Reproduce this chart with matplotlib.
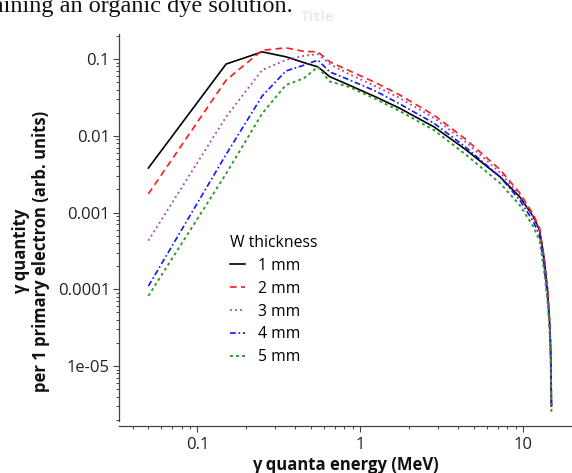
import matplotlib
matplotlib.use("Agg")
import matplotlib.pyplot as plt

plt.rcParams['font.family'] = ['Open Sans', 'DejaVu Sans']

# photon energy bins (MeV)
energy = [0.05, 0.15, 0.25, 0.35, 0.45, 0.55, 0.65, 0.85, 1.25, 1.75, 2.85,
          4.45, 7.25, 9.55, 11.55, 12.65, 13.45, 14.15, 14.55, 14.75, 14.85, 14.95]

w1mm = [0.0038, 0.086, 0.124, 0.107, 0.090, 0.079, 0.059, 0.046, 0.032, 0.0228, 0.0130,
        0.0066, 0.0029, 0.0016, 0.00089, 0.00059, 0.00026, 1.0e-4, 4.0e-5, 2.0e-5, 1.0e-5, 3.0e-6]
w2mm = [0.00175, 0.053, 0.130, 0.140, 0.126, 0.124, 0.092, 0.071, 0.049, 0.034, 0.0185,
        0.0090, 0.0036, 0.0018, 0.00095, 0.00062, 0.00027, 1.0e-4, 4.0e-5, 2.0e-5, 1.0e-5, 3.0e-6]
w3mm = [0.00043, 0.0176, 0.072, 0.097, 0.110, 0.116, 0.086, 0.064, 0.044, 0.031, 0.0170,
        0.0083, 0.0033, 0.0017, 0.00088, 0.00057, 0.00024, 9.0e-5, 3.8e-5, 1.8e-5, 9.0e-6, 3.0e-6]
w4mm = [0.00011, 0.0057, 0.033, 0.070, 0.083, 0.097, 0.068, 0.054, 0.038, 0.026, 0.0145,
        0.0071, 0.0029, 0.00145, 0.00077, 0.00050, 0.00021, 8.0e-5, 3.5e-5, 1.7e-5, 8.0e-6, 2.8e-6]
w5mm = [8.2e-5, 0.0032, 0.0195, 0.046, 0.056, 0.079, 0.051, 0.0435, 0.030, 0.0210, 0.0118,
        0.0057, 0.0024, 0.00125, 0.00066, 0.00043, 0.00018, 7.0e-5, 3.0e-5, 1.5e-5, 7.0e-6, 2.5e-6]

labels = ["1 mm", "2 mm", "3 mm", "4 mm", "5 mm"]

W, H = 572, 473
fig = plt.figure(figsize=(W / 100, H / 100), dpi=100)
ax = fig.add_axes([119 / W, 1 - 421 / H, 1 - 119 / W, (421 - 34) / H])

ax.plot(energy, w1mm, color="black", lw=1.2, label=labels[0])
ax.plot(energy, w2mm, color="#ff1a1a", lw=1.2, ls=(0, (4, 2.6)), label=labels[1])
ax.plot(energy, w3mm, color="#9d45b5", lw=1.3, ls=(0, (1, 1.8)), label=labels[2])
ax.plot(energy, w4mm, color="#1414ff", lw=1.2, ls=(0, (3.5, 1.6, 1, 1.6)), label=labels[3])
ax.plot(energy, w5mm, color="#2e9b2e", lw=1.4, ls=(0, (1.5, 1.6)), label=labels[4])

ax.set_xscale("log")
ax.set_yscale("log")
ax.set_xlim(0.033, 20)
ax.set_ylim(1.92e-6, 0.212)

ax.set_xticks([0.1, 1, 10])
ax.set_xticklabels(["0.1", "1", "10"])
ax.set_yticks([1e-5, 1e-4, 1e-3, 1e-2, 1e-1])
ax.set_yticklabels(["1e-05", "0.0001", "0.001", "0.01", "0.1"])

for s in ["top", "right"]:
    ax.spines[s].set_visible(False)
ax.spines["bottom"].set_position(("outward", 3.6))
for s in ["left", "bottom"]:
    ax.spines[s].set_color("#444444")
    ax.spines[s].set_linewidth(0.9)

ax.tick_params(which="major", direction="out", length=4.5, width=0.8, color="#444444",
               labelsize=12, labelcolor="#222222", pad=2)
ax.tick_params(axis="x", which="major", pad=3.5)
ax.tick_params(which="minor", direction="out", length=2.5, width=0.7, color="#444444")

ax.set_xlabel("γ quanta energy (MeV)", fontsize=12, fontweight="bold", color="#111111", labelpad=2)
fig.text(31 / W, 1 - 251 / H, "γ quantity\nper 1 primary electron (arb. units)",
         rotation=90, ha="center", va="center", multialignment="center",
         fontsize=12, fontweight="bold", color="#111111")

leg = ax.legend(title="W thickness", loc="upper left",
                bbox_to_anchor=((222 - 119) / (W - 119), (421 - 227) / (421 - 34)),
                frameon=False, fontsize=11.3, title_fontsize=11.3,
                handlelength=0.95, handletextpad=0.85, labelspacing=0.44,
                borderpad=0, alignment="left")

# leftovers of the page the chart was cut from
fig.text(293 / W, 1 - 12 / H, "containing an organic dye solution.", ha="right",
         va="baseline", fontsize=17.5, family=["Liberation Serif", "DejaVu Serif"], color="#111111")
fig.text(318 / W, 1 - 17 / H, "Title", ha="center", va="center", fontsize=11,
         fontweight="bold", color="#ebebeb")

fig.savefig("out.png", dpi=100)
